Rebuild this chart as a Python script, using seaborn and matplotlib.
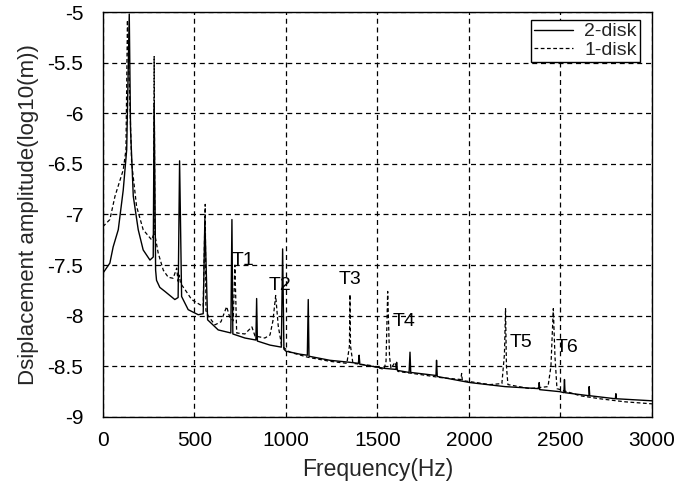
import matplotlib
matplotlib.use("Agg")
import matplotlib.pyplot as plt
import seaborn as sns
import pandas as pd

# 2-disk rotor: frequency (Hz) and displacement amplitude (log10 m)
freq_2disk = [0, 38, 56, 84, 111, 130, 144, 151, 166, 193, 220, 257, 275, 280, 288, 293,
              311, 339, 393, 411, 419, 430, 466, 521, 548, 557, 572, 630, 699, 705, 710,
              776, 836, 840, 844, 913, 975, 982, 989, 1000, 1077, 1117, 1122, 1126,
              1240, 1350, 1396, 1400, 1404, 1541, 1601, 1605, 1609, 1673, 1678, 1682,
              1820, 1823, 1827, 2005, 2197, 2382, 2384, 2387, 2497, 2519, 2522, 2525,
              2656, 2657, 2660, 2800, 2803, 2806, 3000]
amp_2disk = [-7.58, -7.48, -7.32, -7.15, -6.76, -6.36, -5.02, -6.16, -6.82, -7.15, -7.35, -7.45, -7.42, -5.90, -7.55, -7.65,
             -7.72, -7.76, -7.84, -7.82, -6.47, -7.81, -7.94, -7.99, -7.98, -7.05, -8.04, -8.14, -8.17, -7.05, -8.18,
             -8.22, -8.24, -7.83, -8.25, -8.29, -8.31, -7.34, -8.33, -8.35, -8.38, -8.39, -7.84, -8.40,
             -8.44, -8.46, -8.47, -8.39, -8.48, -8.52, -8.53, -8.46, -8.54, -8.56, -8.36, -8.56,
             -8.59, -8.44, -8.60, -8.66, -8.70, -8.72, -8.66, -8.73, -8.75, -8.76, -8.63, -8.76,
             -8.79, -8.70, -8.79, -8.82, -8.77, -8.82, -8.84]

# 1-disk rotor
freq_1disk = [0, 38, 66, 111, 126, 134, 157, 184, 220, 266, 277, 280, 284, 302, 330, 357,
              384, 403, 411, 418, 424, 448, 485, 521, 548, 559, 563, 575, 612, 645, 676,
              694, 712, 721, 731, 776, 814, 831, 885, 913, 929, 944, 958, 977, 1022, 1120,
              1240, 1333, 1347, 1350, 1353, 1366, 1459, 1536, 1547, 1556, 1566, 1574, 1596,
              1612, 1732, 1842, 1956, 1960, 1964, 2115, 2180, 2194, 2200, 2205, 2213, 2333,
              2432, 2448, 2461, 2470, 2481, 2607, 2716, 2852, 3000]
amp_1disk = [-7.12, -7.05, -6.82, -6.56, -6.36, -5.08, -6.49, -6.92, -7.15, -7.25, -7.20, -5.44, -7.20, -7.38, -7.55, -7.62,
             -7.63, -7.53, -7.66, -7.60, -7.68, -7.74, -7.84, -7.88, -7.91, -6.90, -7.95, -8.00, -8.09, -8.06, -7.91,
             -8.02, -8.05, -7.50, -8.17, -8.18, -8.11, -8.20, -8.22, -8.19, -8.05, -7.80, -8.10, -8.30, -8.36, -8.41,
             -8.45, -8.47, -8.30, -7.79, -8.30, -8.47, -8.49, -8.53, -8.45, -7.76, -8.40, -8.52, -8.46,
             -8.55, -8.58, -8.61, -8.63, -8.57, -8.64, -8.68, -8.67, -8.38, -7.93, -8.50, -8.68, -8.72,
             -8.70, -8.50, -7.93, -8.40, -8.72, -8.79, -8.82, -8.85, -8.87]

# Mode labels (frequency, amplitude, text)
mode_freq = [705, 903, 1286, 1583, 2224, 2472]
mode_amp = [-7.45, -7.70, -7.64, -8.06, -8.26, -8.31]
mode_text = ["T1", "T2", "T3", "T4", "T5", "T6"]

x_ticks = [0, 500, 1000, 1500, 2000, 2500, 3000]
y_ticks = [-9, -8.5, -8, -7.5, -7, -6.5, -6, -5.5, -5]
y_tick_labels = ["-9", "-8.5", "-8", "-7.5", "-7", "-6.5", "-6", "-5.5", "-5"]

sns.set_style("white")
plt.rcParams["font.family"] = ["Liberation Sans", "DejaVu Sans"]
plt.rcParams["axes.unicode_minus"] = False

df2 = pd.DataFrame({"Frequency": freq_2disk, "Amplitude": amp_2disk})
df1 = pd.DataFrame({"Frequency": freq_1disk, "Amplitude": amp_1disk})

fig = plt.figure(figsize=(6.77, 4.90), dpi=100)
ax = fig.add_axes([0.152, 0.149, 0.811, 0.8265])

sns.lineplot(data=df2, x="Frequency", y="Amplitude", ax=ax, color="black",
             linewidth=1.0, estimator=None, label="2-disk")
sns.lineplot(data=df1, x="Frequency", y="Amplitude", ax=ax, color="black",
             linewidth=0.9, estimator=None, label="1-disk", dashes=False)
ax.lines[1].set_dashes([3, 2])

for f, a, t in zip(mode_freq, mode_amp, mode_text):
    ax.text(f, a, t, fontsize=14, ha="left", va="center", color="black")

ax.set_xlim(0, 3000)
ax.set_ylim(-9, -5)
ax.set_xticks(x_ticks)
ax.set_yticks(y_ticks)
ax.set_yticklabels(y_tick_labels)
ax.tick_params(direction="in", length=4, labelsize=15, colors="black")
ax.tick_params(axis="y", pad=14)
ax.tick_params(axis="x", pad=10)
ax.grid(True, color="black", linestyle=(0, (4, 3)), linewidth=0.9)
for s in ax.spines.values():
    s.set_color("black")
    s.set_linewidth(1.0)

ax.set_xlabel("Frequency(Hz)", fontsize=16.5, labelpad=6)
ax.set_ylabel("Dsiplacement amplitude(log10(m))", fontsize=16, labelpad=6)

leg = ax.legend(loc="upper right", bbox_to_anchor=(0.985, 0.99), fontsize=14,
                frameon=True, fancybox=False, handlelength=2.0, borderpad=0.15,
                labelspacing=0.05, handletextpad=0.6, borderaxespad=0.2)
leg.get_frame().set_edgecolor("black")
leg.get_frame().set_linewidth(1.0)
leg.get_frame().set_alpha(1.0)

fig.savefig("out.png", dpi=100)
